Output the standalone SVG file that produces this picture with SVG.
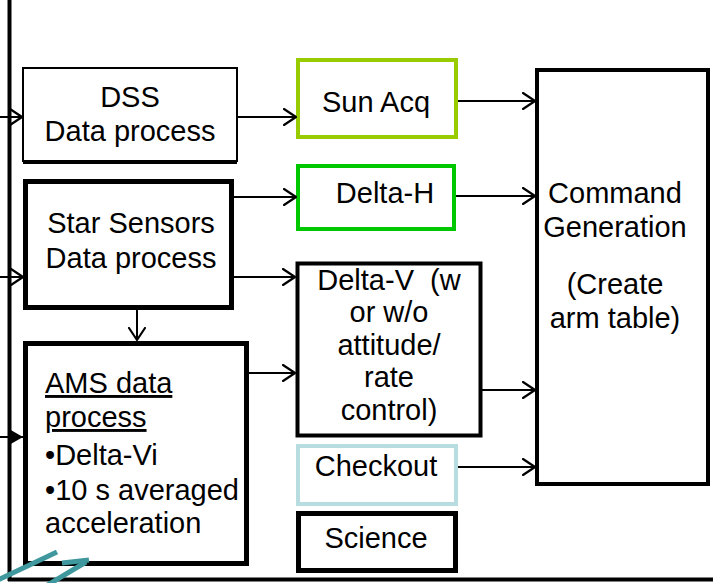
<svg xmlns="http://www.w3.org/2000/svg" width="713" height="583" viewBox="0 0 713 583">
<defs>
<style>
text{font-family:"Liberation Sans",Arial,sans-serif;font-size:29px;fill:#000}
.c{text-anchor:middle}
.box{fill:#fff;stroke:#000}
.sun{fill:#fff;stroke:#99cc00;stroke-width:4}
.dh{fill:#fff;stroke:#00c800;stroke-width:4}
.chk{fill:#fff;stroke:#b7dde1;stroke-width:4}
.ln{stroke:#000;stroke-width:2;fill:none}
.frame{stroke:#000;stroke-width:4;fill:none}
.teal{stroke:#3f989e;stroke-width:5;fill:none}
</style>
<marker id="open" viewBox="0 0 14 18" refX="13" refY="9" markerWidth="14" markerHeight="18" markerUnits="userSpaceOnUse" orient="auto">
<path d="M1,1 L13,9 L1,17" fill="none" stroke="#000" stroke-width="2.2" stroke-linejoin="round" stroke-linecap="round"/>
</marker>
<marker id="fill" viewBox="0 0 14 16" refX="14" refY="8" markerWidth="14" markerHeight="16" markerUnits="userSpaceOnUse" orient="auto">
<path d="M0,0 L14,8 L0,16 Z" fill="#000"/>
</marker>
</defs>
<rect width="713" height="583" fill="#fff"/>

<g id="frame">
<line class="frame" x1="9.5" y1="0" x2="9.5" y2="581"/>
<line class="frame" x1="8" y1="579.5" x2="713" y2="579.5"/>
</g>

<g id="dss">
<rect x="23" y="68" width="214" height="93" class="box" stroke-width="2"/>
<line x1="23" y1="162.5" x2="237" y2="162.5" stroke="#000" stroke-width="3"/>
<text class="c" x="130" y="107">DSS</text>
<text class="c" x="130" y="141">Data process</text>
</g>

<g id="star">
<rect x="25.5" y="181.5" width="206" height="126" class="box" stroke-width="5"/>
<text class="c" x="131" y="233">Star Sensors</text>
<text class="c" x="131" y="268">Data process</text>
</g>

<g id="ams">
<rect x="25.5" y="343.5" width="221" height="220" class="box" stroke-width="5"/>
<text x="45" y="393" text-decoration="underline">AMS data</text>
<text x="45" y="427" text-decoration="underline">process</text>
<text x="45" y="465">•Delta-Vi</text>
<text x="45" y="500">•10 s averaged</text>
<text x="45" y="533">acceleration</text>
</g>

<g id="sunacq">
<rect x="298" y="60" width="158" height="77" class="sun"/>
<text class="c" x="376" y="112">Sun Acq</text>
</g>

<g id="deltah">
<rect x="298" y="166" width="156" height="63" class="dh"/>
<text class="c" x="385" y="203">Delta-H</text>
</g>

<g id="deltav">
<rect x="297.5" y="263.5" width="183" height="172" class="box" stroke-width="4"/>
<text class="c" x="389" y="290" xml:space="preserve">Delta-V  (w</text>
<text class="c" x="389" y="322">or w/o</text>
<text class="c" x="389" y="355">attitude/</text>
<text class="c" x="389" y="387">rate</text>
<text class="c" x="389" y="420">control)</text>
</g>

<g id="checkout">
<rect x="298" y="446" width="158" height="58" class="chk"/>
<text class="c" x="376" y="476">Checkout</text>
</g>

<g id="science">
<rect x="298.5" y="513.5" width="157" height="57" class="box" stroke-width="5"/>
<text class="c" x="376" y="548">Science</text>
</g>

<g id="cmdgen">
<rect x="537" y="70" width="171" height="414" class="box" stroke-width="4"/>
<text class="c" x="615" y="203">Command</text>
<text class="c" x="615" y="237">Generation</text>
<text class="c" x="615" y="294">(Create</text>
<text class="c" x="615" y="328">arm table)</text>
</g>

<g id="connectors">
<line class="ln" x1="0" y1="117" x2="22" y2="117" marker-end="url(#open)"/>
<line class="ln" x1="0" y1="277" x2="23" y2="277" marker-end="url(#open)"/>
<line class="ln" x1="0" y1="437" x2="23" y2="437" marker-end="url(#fill)"/>
<line class="ln" x1="237" y1="117" x2="296" y2="117" marker-end="url(#open)"/>
<line class="ln" x1="234" y1="197" x2="296" y2="197" marker-end="url(#open)"/>
<line class="ln" x1="234" y1="277" x2="295" y2="277" marker-end="url(#open)"/>
<line class="ln" x1="137" y1="310" x2="137" y2="340" marker-end="url(#open)"/>
<line class="ln" x1="249" y1="373" x2="295" y2="373" marker-end="url(#open)"/>
<line class="ln" x1="458" y1="101" x2="535" y2="101" marker-end="url(#open)"/>
<line class="ln" x1="456" y1="196" x2="535" y2="196" marker-end="url(#open)"/>
<line class="ln" x1="482" y1="390" x2="535" y2="390" marker-end="url(#open)"/>
<line class="ln" x1="458" y1="467" x2="535" y2="467" marker-end="url(#open)"/>
</g>

<g id="teal-arrows">
<line class="teal" x1="-2" y1="580" x2="57" y2="552"/>
<line class="teal" x1="46" y1="586" x2="86" y2="562"/>
<line class="teal" x1="62" y1="563" x2="89" y2="560"/>
</g>
</svg>
